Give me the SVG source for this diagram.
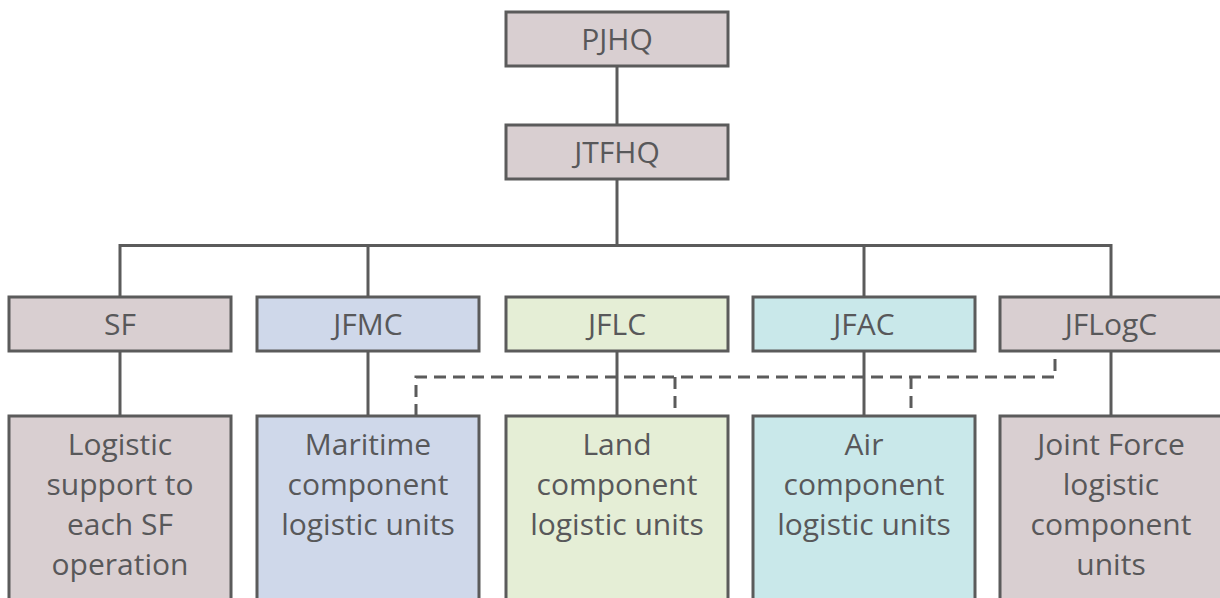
<svg xmlns="http://www.w3.org/2000/svg" width="1220" height="598" viewBox="0 0 1220 598">
<style>
rect{stroke:#5b5b5b;stroke-width:3}
.g{fill:#d9cfd1}.b{fill:#cfd8ea}.l{fill:#e5eed6}.a{fill:#c9e8ea}
text{font-family:"Open Sans","Liberation Sans",sans-serif;font-size:30px;fill:#58585a;text-anchor:middle}
.c line,.c path{stroke:#5b5b5b;stroke-width:3;fill:none}
.c .d{stroke-dasharray:12 7}
</style>
<rect x="0" y="0" width="1220" height="598" fill="#fff" style="stroke:none"/>
<g class="c">
<line x1="617" y1="66" x2="617" y2="125"/>
<line x1="617" y1="179" x2="617" y2="245.5"/>
<path d="M120 297V245.5H1111V297"/>
<line x1="368" y1="245.5" x2="368" y2="297"/>
<line x1="864" y1="245.5" x2="864" y2="297"/>
<line x1="120" y1="350" x2="120" y2="416"/>
<line x1="368" y1="350" x2="368" y2="416"/>
<line x1="617" y1="350" x2="617" y2="416"/>
<line x1="864" y1="350" x2="864" y2="416"/>
<line x1="1111" y1="350" x2="1111" y2="416"/>
<path class="d" d="M416 416V377H1055V352"/>
<line class="d" x1="675" y1="377" x2="675" y2="412"/>
<line class="d" x1="911" y1="377" x2="911" y2="412"/>
</g>
<g id="pjhq"><rect class="g" x="506" y="12" width="222" height="54"/><text x="617" y="50">PJHQ</text></g>
<g id="jtfhq"><rect class="g" x="506" y="125" width="222" height="54"/><text x="617" y="163">JTFHQ</text></g>
<g id="sf"><rect class="g" x="9" y="297" width="222" height="54"/><text x="120" y="335">SF</text></g>
<g id="jfmc"><rect class="b" x="257" y="297" width="222" height="54"/><text x="368" y="335">JFMC</text></g>
<g id="jflc"><rect class="l" x="506" y="297" width="222" height="54"/><text x="617" y="335">JFLC</text></g>
<g id="jfac"><rect class="a" x="753" y="297" width="222" height="54"/><text x="864" y="335">JFAC</text></g>
<g id="jflogc"><rect class="g" x="1000" y="297" width="222" height="54"/><text x="1111" y="335">JFLogC</text></g>
<g id="sf-units"><rect class="g" x="9" y="416" width="222" height="200"/><text x="120" y="455">Logistic</text><text x="120" y="495">support to</text><text x="120" y="535">each SF</text><text x="120" y="575">operation</text></g>
<g id="mar-units"><rect class="b" x="257" y="416" width="222" height="200"/><text x="368" y="455">Maritime</text><text x="368" y="495">component</text><text x="368" y="535">logistic units</text></g>
<g id="land-units"><rect class="l" x="506" y="416" width="222" height="200"/><text x="617" y="455">Land</text><text x="617" y="495">component</text><text x="617" y="535">logistic units</text></g>
<g id="air-units"><rect class="a" x="753" y="416" width="222" height="200"/><text x="864" y="455">Air</text><text x="864" y="495">component</text><text x="864" y="535">logistic units</text></g>
<g id="jf-units"><rect class="g" x="1000" y="416" width="222" height="200"/><text x="1111" y="455">Joint Force</text><text x="1111" y="495">logistic</text><text x="1111" y="535">component</text><text x="1111" y="575">units</text></g>
</svg>
